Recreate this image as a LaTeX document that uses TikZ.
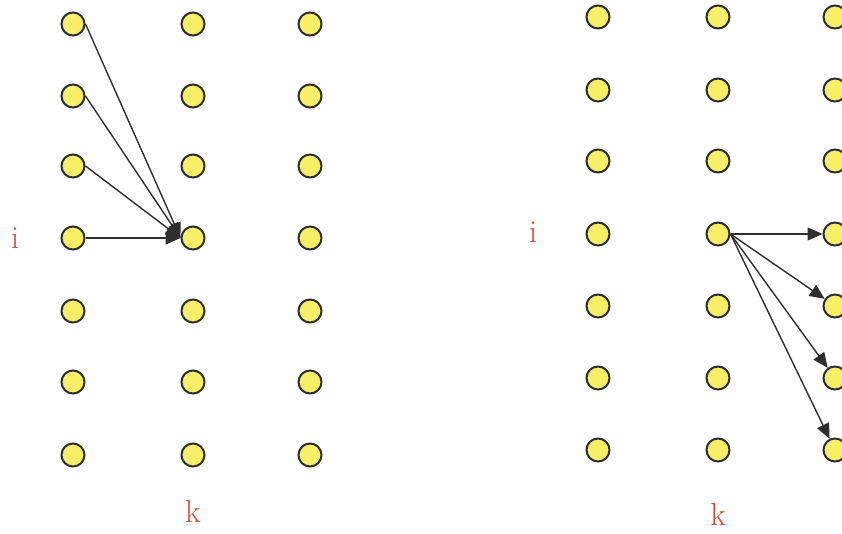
\documentclass[tikz,border=0pt]{standalone}
\usetikzlibrary{arrows.meta}
\definecolor{dotfill}{HTML}{F7F066}
\definecolor{dotline}{HTML}{2E2E2E}
\definecolor{lab}{HTML}{DC4A2E}
\begin{document}
\begin{tikzpicture}[x=1pt,y=-1pt,
  dot/.style={circle,draw=dotline,line width=2pt,fill=dotfill,minimum size=23pt,inner sep=0pt},
  arr/.style={draw=dotline,line width=1.4pt,-{Triangle[length=15pt,width=13pt]}},
  lbl/.style={text=lab,font=\fontsize{32}{38}\selectfont,inner sep=0pt}]
\useasboundingbox (0,0) rectangle (842,534);
% left grid
\foreach \c/\x in {1/73,2/193,3/310}{
  \foreach \r/\y in {1/24,2/96,3/166,4/238,5/311,6/382,7/455}{
    \node[dot] (L\r\c) at (\x,\y) {};
  }
}
% right grid
\foreach \c/\x in {1/598,2/718,3/835}{
  \foreach \r/\y in {1/17,2/90,3/161,4/234,5/306,6/378,7/450}{
    \node[dot] (R\r\c) at (\x,\y) {};
  }
}
\node[lbl] (li) at (15,238) {i};
\node[lbl] (lk) at (193,511) {k};
\node[lbl] (ri) at (533,232) {i};
\node[lbl] (rk) at (718,514) {k};
% left arrows
\foreach \r in {1,2,3,4}{
  \draw[arr] (L\r1.east) -- (L42.west);
}
% right arrows
\foreach \r in {4,5,6,7}{
  \draw[arr] (R42.east) -- (R\r3);
}
\end{tikzpicture}
\end{document}
